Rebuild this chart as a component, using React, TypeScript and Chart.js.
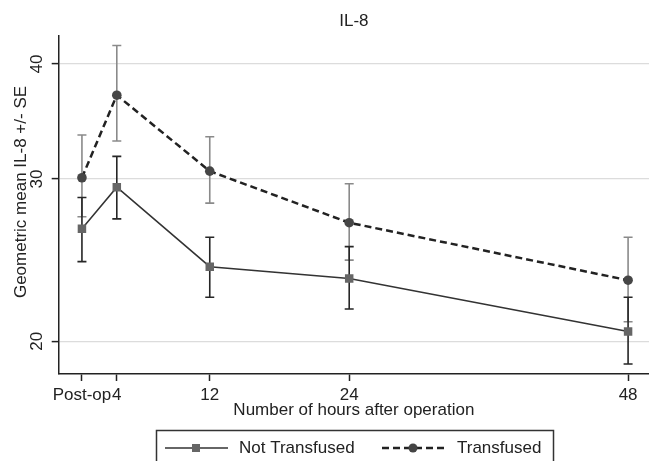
import React, { useEffect, useRef } from "react";
import { Chart, registerables } from "chart.js";

Chart.register(...registerables);

const hours = [1, 4, 12, 24, 48];
const xTickValues = [1, 4, 12, 24, 48];
const xTickLabels = ["Post-op", "4", "12", "24", "48"];
const yTickValues = [20, 30, 40];

const notTransfused = [26.5, 29.4, 24.1, 23.4, 20.5];
const notTransfusedUpper = [28.65, 31.75, 25.94, 25.34, 22.33];
const notTransfusedLower = [24.41, 27.16, 22.33, 21.68, 18.9];

const transfused = [30.1, 37.0, 30.6, 26.9, 23.3];
const transfusedUpper = [33.5, 41.9, 33.35, 29.65, 25.94];
const transfusedLower = [27.3, 33.0, 28.25, 24.5, 21.0];

const FONT = '"Liberation Sans", Arial, sans-serif';
const FS = 17;
const TEXT = "#222222";

export default function App() {
  const ref = useRef<HTMLCanvasElement | null>(null);

  useEffect(() => {
    document.body.style.margin = "0";
    const canvas = ref.current;
    if (!canvas) return;

    const errorBars = {
      id: "errorBars",
      beforeDatasetsDraw(chart: any) {
        const ctx = chart.ctx;
        const xs = chart.scales.x;
        const ys = chart.scales.y;
        const sets = [
          { up: transfusedUpper, lo: transfusedLower, color: "#8a8a8a" },
          { up: notTransfusedUpper, lo: notTransfusedLower, color: "#262626" },
        ];
        ctx.save();
        ctx.lineWidth = 1.6;
        sets.forEach((s) => {
          ctx.strokeStyle = s.color;
          hours.forEach((h, i) => {
            const x = xs.getPixelForValue(h);
            const y1 = ys.getPixelForValue(s.up[i]);
            const y2 = ys.getPixelForValue(s.lo[i]);
            ctx.beginPath();
            ctx.moveTo(x, y1);
            ctx.lineTo(x, y2);
            ctx.moveTo(x - 4.5, y1);
            ctx.lineTo(x + 4.5, y1);
            ctx.moveTo(x - 4.5, y2);
            ctx.lineTo(x + 4.5, y2);
            ctx.stroke();
          });
        });
        ctx.restore();
      },
    };

    const extras = {
      id: "extras",
      afterDraw(chart: any) {
        const ctx = chart.ctx;
        const ys = chart.scales.y;
        ctx.save();
        ctx.fillStyle = TEXT;
        ctx.font = `${FS}px ${FONT}`;
        ctx.textAlign = "center";
        ctx.textBaseline = "middle";
        yTickValues.forEach((v) => {
          const y = ys.getPixelForValue(v);
          ctx.save();
          ctx.translate(37, y);
          ctx.rotate(-Math.PI / 2);
          ctx.fillText(String(v), 0, 0);
          ctx.restore();
        });
        ctx.save();
        ctx.translate(21.5, 192);
        ctx.rotate(-Math.PI / 2);
        ctx.fillText("Geometric mean IL-8 +/- SE", 0, 0);
        ctx.restore();

        // legend
        ctx.strokeStyle = "#333333";
        ctx.lineWidth = 1.5;
        ctx.strokeRect(156.5, 430.5, 397, 40);
        const ly = 448;
        ctx.strokeStyle = "#333333";
        ctx.lineWidth = 1.5;
        ctx.setLineDash([]);
        ctx.beginPath();
        ctx.moveTo(165, ly);
        ctx.lineTo(228, ly);
        ctx.stroke();
        ctx.fillStyle = "#666666";
        ctx.fillRect(192, ly - 4, 8, 8);
        ctx.strokeStyle = "#222222";
        ctx.lineWidth = 2.5;
        ctx.setLineDash([7, 4]);
        ctx.beginPath();
        ctx.moveTo(382, ly);
        ctx.lineTo(444, ly);
        ctx.stroke();
        ctx.setLineDash([]);
        ctx.fillStyle = "#444444";
        ctx.beginPath();
        ctx.arc(413, ly, 4.5, 0, Math.PI * 2);
        ctx.fill();
        ctx.fillStyle = TEXT;
        ctx.textAlign = "left";
        ctx.fillText("Not Transfused", 239, ly);
        ctx.fillText("Transfused", 457, ly);
        ctx.restore();
      },
    };

    const chart = new Chart(canvas, {
      type: "line",
      data: {
        datasets: [
          {
            label: "Not Transfused",
            data: hours.map((h, i) => ({ x: h, y: notTransfused[i] })),
            borderColor: "#333333",
            borderWidth: 1.5,
            pointStyle: "rect",
            pointRadius: 6,
            pointBackgroundColor: "#666666",
            pointBorderColor: "#666666",
            pointBorderWidth: 0,
            tension: 0,
            fill: false,
          },
          {
            label: "Transfused",
            data: hours.map((h, i) => ({ x: h, y: transfused[i] })),
            borderColor: "#222222",
            borderWidth: 2.5,
            borderDash: [7, 4],
            pointStyle: "circle",
            pointRadius: 4.8,
            pointBackgroundColor: "#464646",
            pointBorderColor: "#464646",
            pointBorderWidth: 0,
            tension: 0,
            fill: false,
          },
        ],
      },
      options: {
        responsive: false,
        animation: false,
        devicePixelRatio: 1,
        layout: { padding: 0, autoPadding: false },
        plugins: {
          legend: { display: false },
          tooltip: { enabled: false },
          title: {
            display: true,
            text: "IL-8",
            fullSize: false,
            color: TEXT,
            font: { family: FONT, size: FS, weight: "normal" },
            padding: { top: 10.8, bottom: 4.8 },
          },
        },
        scales: {
          x: {
            type: "linear",
            min: -1,
            max: 49.8,
            afterFit: (s: any) => {
              s.height = 87;
              s.paddingLeft = 0;
              s.paddingRight = 0;
            },
            afterBuildTicks: (s: any) => {
              s.ticks = xTickValues.map((v) => ({ value: v }));
            },
            ticks: {
              autoSkip: false,
              maxRotation: 0,
              minRotation: 0,
              padding: 4,
              color: TEXT,
              font: { family: FONT, size: FS },
              callback: (v: any) => {
                const idx = xTickValues.indexOf(Number(v));
                return idx >= 0 ? xTickLabels[idx] : "";
              },
            },
            grid: {
              drawOnChartArea: false,
              drawTicks: true,
              tickLength: 7,
              tickColor: "#222222",
              tickWidth: 1.5,
            },
            border: { display: true, color: "#222222", width: 1.5 },
            title: {
              display: true,
              text: "Number of hours after operation",
              color: TEXT,
              font: { family: FONT, size: FS },
              padding: { top: 0, bottom: 40.8 },
            },
          },
          y: {
            type: "logarithmic",
            min: 18.43,
            max: 42.9,
            afterFit: (s: any) => {
              s.width = 58.7;
              s.paddingTop = 0;
              s.paddingBottom = 0;
            },
            afterBuildTicks: (s: any) => {
              s.ticks = yTickValues.map((v) => ({ value: v }));
            },
            ticks: { display: false },
            grid: {
              color: "#dcdcdc",
              lineWidth: 1.2,
              drawTicks: true,
              tickLength: 7,
              tickColor: "#222222",
              tickWidth: 1.5,
            },
            border: { display: true, color: "#222222", width: 1.5 },
          },
        },
      },
      plugins: [errorBars, extras],
    } as any);

    return () => chart.destroy();
  }, []);

  return (
    <div style={{ width: 649, height: 461, background: "#fff" }}>
      <canvas ref={ref} width={649} height={461} style={{ display: "block" }} />
    </div>
  );
}
